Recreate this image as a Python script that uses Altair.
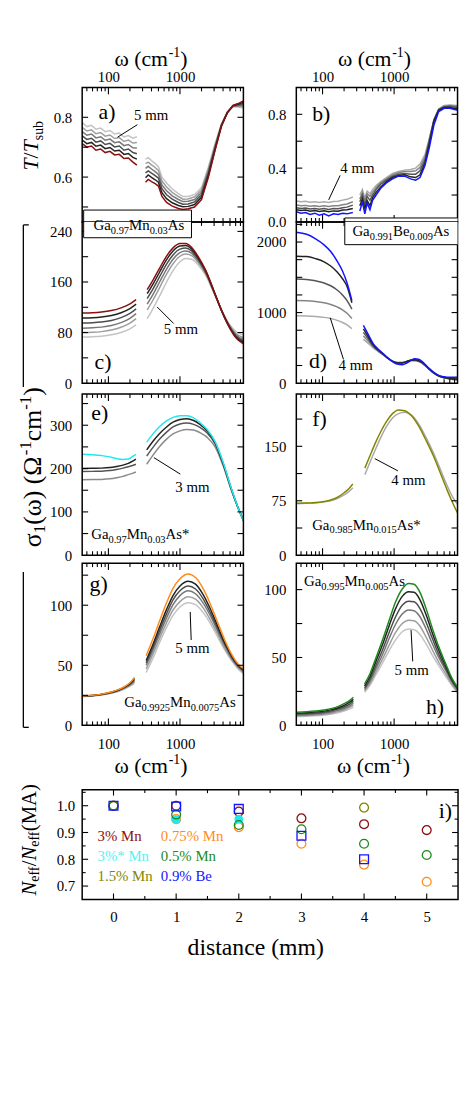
import altair as alt
import pandas as pd

FONT = "Liberation Serif"
W = 163
WI = 380
XDOM = [43, 7700]

RED = "#8b0f0f"
ORANGE = "#ff8c1a"
CYAN = "#22e8ee"
GREEN = "#1e8a1e"
OLIVE = "#858500"
BLUE = "#1414ff"
G5 = ["#222222", "#4d4d4d", "#777777", "#9e9e9e", "#c4c4c4"]
G4 = ["#222222", "#555555", "#858585", "#ababab"]
G3 = ["#222222", "#555555", "#8a8a8a"]

# ---------------- panel a : T/Tsub, Ga0.97Mn0.03As (0..5 mm) ----------------
A_F_LOW = [43, 50, 58, 67, 78, 90, 105, 122, 142, 165, 190, 220, 250]
A_T_LOW = [
    [0.712, 0.700, 0.704, 0.690, 0.694, 0.682, 0.686, 0.674, 0.676, 0.662, 0.664, 0.650, 0.640],
    [0.724, 0.712, 0.716, 0.703, 0.707, 0.695, 0.699, 0.687, 0.690, 0.676, 0.679, 0.666, 0.660],
    [0.738, 0.726, 0.730, 0.717, 0.721, 0.709, 0.713, 0.701, 0.704, 0.690, 0.694, 0.682, 0.678],
    [0.752, 0.740, 0.744, 0.731, 0.735, 0.723, 0.727, 0.715, 0.718, 0.705, 0.709, 0.698, 0.697],
    [0.766, 0.754, 0.758, 0.745, 0.749, 0.737, 0.741, 0.729, 0.732, 0.719, 0.724, 0.714, 0.716],
    [0.782, 0.769, 0.773, 0.760, 0.764, 0.752, 0.756, 0.744, 0.747, 0.734, 0.739, 0.730, 0.735],
]
A_F_MID = [330, 360, 400, 450, 500, 560, 650, 780, 950, 1100, 1300, 1600, 2000, 2500, 3100, 3800, 4600, 5500, 6500, 7700]
A_T_MID = [
    [0.583, 0.592, 0.585, 0.578, 0.570, 0.535, 0.515, 0.503, 0.495, 0.492, 0.494, 0.500, 0.525, 0.600, 0.690, 0.770, 0.815, 0.840, 0.846, 0.855],
    [0.598, 0.607, 0.599, 0.591, 0.583, 0.548, 0.528, 0.514, 0.505, 0.501, 0.502, 0.508, 0.533, 0.607, 0.694, 0.772, 0.816, 0.839, 0.844, 0.850],
    [0.614, 0.621, 0.613, 0.605, 0.596, 0.561, 0.541, 0.526, 0.515, 0.509, 0.510, 0.517, 0.541, 0.614, 0.699, 0.773, 0.816, 0.838, 0.842, 0.845],
    [0.629, 0.636, 0.627, 0.618, 0.609, 0.574, 0.554, 0.537, 0.525, 0.518, 0.519, 0.525, 0.549, 0.621, 0.703, 0.775, 0.817, 0.837, 0.839, 0.840],
    [0.645, 0.650, 0.641, 0.632, 0.622, 0.587, 0.567, 0.549, 0.535, 0.526, 0.527, 0.534, 0.557, 0.628, 0.708, 0.776, 0.817, 0.836, 0.837, 0.835],
    [0.660, 0.665, 0.655, 0.645, 0.635, 0.600, 0.580, 0.560, 0.545, 0.535, 0.535, 0.542, 0.565, 0.635, 0.712, 0.778, 0.818, 0.835, 0.835, 0.830],
]

# ---------------- panel b : T/Tsub, Ga0.991Be0.009As (0..4 mm) ----------------
B_F_LOW = [43, 50, 58, 67, 78, 90, 105, 122, 142, 165, 190, 220, 265]
B_T_LOW = [
    [0.075, 0.065, 0.070, 0.055, 0.065, 0.050, 0.060, 0.045, 0.060, 0.055, 0.065, 0.060, 0.070],
    [0.090, 0.085, 0.088, 0.080, 0.085, 0.078, 0.083, 0.076, 0.082, 0.080, 0.088, 0.090, 0.100],
    [0.105, 0.100, 0.103, 0.096, 0.100, 0.094, 0.099, 0.093, 0.099, 0.098, 0.106, 0.110, 0.125],
    [0.125, 0.120, 0.123, 0.116, 0.120, 0.115, 0.120, 0.114, 0.120, 0.120, 0.128, 0.133, 0.150],
    [0.155, 0.150, 0.153, 0.146, 0.150, 0.145, 0.150, 0.145, 0.152, 0.153, 0.162, 0.168, 0.185],
]
B_F_MID = [332, 360, 390, 420, 460, 500, 560, 650, 780, 950, 1150, 1400, 1700, 2000, 2300, 2700, 3100, 3600, 4200, 5000, 6000, 7700]
B_T_MID = [
    [0.08, 0.15, 0.06, 0.14, 0.09, 0.16, 0.20, 0.25, 0.29, 0.32, 0.34, 0.34, 0.32, 0.31, 0.33, 0.42, 0.55, 0.72, 0.82, 0.845, 0.845, 0.83],
    [0.12, 0.17, 0.10, 0.16, 0.12, 0.18, 0.22, 0.26, 0.30, 0.33, 0.345, 0.35, 0.335, 0.33, 0.35, 0.44, 0.58, 0.75, 0.83, 0.85, 0.85, 0.84],
    [0.15, 0.20, 0.13, 0.19, 0.16, 0.20, 0.24, 0.28, 0.31, 0.34, 0.355, 0.36, 0.355, 0.355, 0.38, 0.46, 0.60, 0.755, 0.835, 0.855, 0.86, 0.85],
    [0.17, 0.22, 0.16, 0.21, 0.19, 0.22, 0.255, 0.29, 0.32, 0.35, 0.365, 0.375, 0.375, 0.38, 0.405, 0.48, 0.61, 0.76, 0.838, 0.86, 0.865, 0.858],
    [0.20, 0.24, 0.18, 0.23, 0.21, 0.24, 0.27, 0.30, 0.33, 0.36, 0.375, 0.385, 0.39, 0.40, 0.43, 0.50, 0.62, 0.76, 0.84, 0.865, 0.87, 0.865],
]

# ---------------- panel c : sigma1, Ga0.97Mn0.03As (0..5 mm) ----------------
C_F_LOW = [43, 60, 80, 110, 150, 200, 244]
C_S_LOW = [
    [111, 111.4, 112.5, 114.8, 119.0, 125.3, 132],
    [103, 103.4, 104.5, 107.0, 111.4, 118.0, 125],
    [95, 95.5, 96.6, 99.1, 103.6, 110.3, 117.5],
    [87, 87.5, 88.6, 91.1, 95.7, 102.6, 110],
    [80, 80.4, 81.5, 84.0, 88.4, 95.0, 102],
    [73, 73.4, 74.3, 76.4, 80.2, 85.9, 92],
]
C_F_MID = [348, 420, 520, 650, 800, 1000, 1200, 1450, 1800, 2300, 3000, 3800, 4800, 6000, 7700]
C_S_MID = [
    [148, 163, 182, 201, 214, 221, 221, 215, 200, 178, 145, 115, 90, 72, 62],
    [141.6, 156.7, 175.8, 195.3, 209.0, 216.9, 217.6, 212.3, 198.2, 176.9, 144.6, 115.1, 90.7, 73.4, 64.0],
    [133.7, 149.0, 168.4, 188.3, 202.8, 212.0, 213.6, 209.1, 196.0, 175.5, 144.1, 115.3, 91.6, 75.1, 66.3],
    [125, 140.5, 160, 180.5, 196, 206.5, 209, 205.5, 193.5, 174, 143.5, 115.5, 92.5, 77, 69],
    [115.8, 131.5, 151.2, 172.3, 188.8, 200.7, 204.2, 201.7, 190.9, 172.4, 142.9, 115.7, 93.5, 79, 71.8],
    [102, 118, 138, 160, 178, 192, 197, 196, 187, 170, 142, 116, 95, 82, 76],
]

# ---------------- panel d : sigma1, Ga0.991Be0.009As (0..4 mm) ----------------
D_F_LOW = [43, 60, 80, 105, 130, 160, 190, 220, 257]
D_S_LOW = [
    [2140, 2110, 2045, 1960, 1865, 1730, 1590, 1420, 1170],
    [1800, 1795, 1765, 1720, 1660, 1575, 1480, 1370, 1140],
    [1475, 1470, 1450, 1420, 1380, 1320, 1250, 1170, 1050],
    [1170, 1168, 1158, 1140, 1115, 1080, 1040, 990, 915],
    [955, 952, 945, 932, 915, 890, 860, 825, 770],
]
D_F_MID = [372, 440, 510, 600, 700, 830, 965, 1100, 1300, 1500, 1700, 1950, 2250, 2600, 3000, 3500, 4200, 5000, 6000, 7700]
D_S_MID = [
    [820, 680, 560, 480, 420, 350, 300, 270, 262, 285, 320, 345, 335, 285, 220, 160, 110, 90, 82, 85],
    [770, 650, 545, 470, 415, 350, 305, 285, 285, 305, 325, 330, 315, 275, 215, 155, 105, 80, 65, 55],
    [720, 620, 530, 462, 410, 350, 308, 290, 290, 308, 324, 325, 310, 270, 212, 152, 102, 78, 62, 52],
    [670, 590, 515, 455, 405, 348, 308, 292, 292, 308, 322, 322, 306, 266, 210, 150, 100, 76, 60, 50],
    [620, 560, 500, 448, 400, 345, 307, 292, 292, 306, 318, 318, 302, 263, 208, 148, 98, 75, 58, 48],
]

# ---------------- panel e : sigma1, Ga0.97Mn0.03As* (0..3 mm) ----------------
E_F_LOW = [43, 60, 80, 105, 130, 160, 190, 218, 242]
E_S_LOW = [
    [233, 232, 230, 227, 223, 221, 222, 228, 233],
    [200, 200.5, 201, 202.5, 205, 208, 212, 217, 222],
    [193, 193.5, 194, 195.5, 198, 201, 204, 207, 210],
    [174, 174.5, 175, 176.5, 179, 182, 186, 189, 192],
]
E_F_MID = [343, 420, 520, 650, 800, 1000, 1250, 1550, 1900, 2400, 3100, 4000, 5200, 6400, 7700]
E_S_MID = [
    [261, 280, 297, 310, 318, 322, 322, 317, 306, 290, 262, 215, 155, 112, 80],
    [243, 263, 281, 296, 307, 313, 315, 311, 302, 287, 260, 213, 154, 112, 80],
    [229, 249, 268, 284, 296, 303, 305, 302, 295, 282, 257, 211, 153, 112, 80],
    [210, 231, 251, 268, 280, 287, 290, 289, 283, 272, 250, 207, 151, 112, 82],
]

# ---------------- panel f : sigma1, Ga0.985Mn0.015As* (0, 4 mm) ----------------
F_F_LOW = [43, 60, 80, 105, 130, 160, 200, 235, 265]
F_S_LOW = [
    [71.5, 72, 72.5, 74, 76, 79.5, 86, 92, 98],
    [71, 71.5, 72, 73.5, 75, 78, 83, 88, 93],
]
F_F_MID = [390, 460, 550, 650, 780, 950, 1150, 1400, 1750, 2200, 2800, 3500, 4400, 5500, 6600, 7700]
F_S_MID = [
    [120, 137, 155, 170, 184, 195, 200, 199, 192, 178, 158, 138, 114, 90, 72, 58],
    [111, 128, 146, 162, 177, 189, 195, 197, 193, 181, 162, 142, 119, 96, 80, 70],
]

# ---------------- panel g : sigma1, Ga0.9925Mn0.0075As (0..5 mm) ----------------
G_F_LOW = [43, 60, 80, 105, 135, 170, 205, 231]
G_S_LOW = [
    [24.5, 25, 26, 27.5, 29.5, 32.5, 36, 40],
    [24.4, 24.9, 25.8, 27.3, 29.2, 32.1, 35.4, 39],
    [24.3, 24.8, 25.7, 27.1, 29.0, 31.8, 34.9, 38],
    [24.2, 24.7, 25.6, 26.9, 28.7, 31.4, 34.3, 37],
    [24.1, 24.6, 25.4, 26.7, 28.4, 31.0, 33.7, 36],
    [24.0, 24.5, 25.3, 26.5, 28.1, 30.5, 33.0, 34.5],
]
G_F_MID = [337, 420, 520, 650, 800, 1000, 1300, 1650, 2100, 2700, 3400, 4300, 5400, 6500, 7700]
G_S_MID = [
    [58, 72, 87, 102, 114, 122, 126, 123, 114, 100, 85, 70, 58, 51, 47],
    [54, 67.5, 82, 96.5, 108, 116, 120, 117.5, 109, 96, 82, 68, 57, 50, 46],
    [52, 65, 79, 93, 104.5, 112, 116, 113.5, 105.5, 93, 80, 67, 56, 49.5, 46],
    [50, 62.5, 76, 89.5, 100.5, 108, 112, 109.5, 102, 90.5, 78, 65.5, 55, 49, 45],
    [47, 59.5, 72.5, 85.5, 96, 103, 107, 105, 98, 87, 75.5, 63.5, 54, 48, 44],
    [44, 56, 69, 81.5, 91.5, 98.5, 102, 100.5, 94, 84, 73, 62, 53, 47, 43],
]

# ---------------- panel h : sigma1, Ga0.995Mn0.005As (0..5 mm) ----------------
H_F_LOW = [43, 60, 80, 105, 135, 170, 210, 245, 270]
H_S_LOW = [
    [9.7, 10, 10.5, 11.3, 12.5, 14.2, 16.5, 18.8, 20.7],
    [9.0, 9.3, 9.8, 10.5, 11.6, 13.2, 15.3, 17.5, 19.2],
    [8.3, 8.6, 9.0, 9.7, 10.7, 12.2, 14.1, 16.1, 17.7],
    [7.6, 7.9, 8.3, 8.9, 9.8, 11.2, 13.0, 14.8, 16.3],
    [7.0, 7.3, 7.6, 8.2, 9.0, 10.3, 11.9, 13.6, 14.9],
    [6.5, 6.7, 7.0, 7.5, 8.3, 9.4, 10.9, 12.3, 13.4],
]
H_F_MID = [387, 460, 560, 700, 860, 1050, 1300, 1600, 1900, 2300, 2800, 3400, 4200, 5200, 6400, 7700]
H_S_MID = [
    [30.5, 38, 50, 64, 78, 91, 100.5, 104.5, 104, 98, 86, 72, 58, 46, 35, 28],
    [29, 36, 47.5, 60.5, 74, 86, 95, 98.5, 98, 92.5, 81.5, 68.5, 55.5, 44.5, 34, 27.5],
    [27.5, 34, 44.5, 56.5, 69, 80, 88.5, 91.5, 91, 86, 76, 64.5, 52.5, 42.5, 33, 27],
    [26.5, 32.5, 42, 53, 64.5, 74.5, 82, 85, 84.5, 80, 71, 60.5, 50, 41, 32, 26],
    [25.5, 31, 39.5, 49.5, 59.5, 68.5, 75, 77.5, 77, 73, 65, 56, 46.5, 38.5, 30.5, 25],
    [24.4, 29.5, 37.5, 46.5, 55.5, 63, 69, 71, 70.5, 67, 60, 52, 44, 36.5, 29.5, 24],
]

# ---------------- panel i : Neff / Neff(MA) vs distance ----------------
I_SERIES = [
    ("3% Mn", RED, "circle", False, [0, 1, 2, 3, 4, 5], [1.0, 1.0, 0.978, 0.953, 0.931, 0.909]),
    ("0.75% Mn", ORANGE, "circle", False, [0, 1, 2, 3, 4, 5], [1.0, 0.95, 0.92, 0.858, 0.78, 0.716]),
    ("3%* Mn", CYAN, "circle", True, [1, 2], [0.948, 0.95]),
    ("1.5% Mn", OLIVE, "circle", False, [0, 4], [1.0, 0.993]),
    ("0.5% Mn", GREEN, "circle", False, [0, 1, 2, 3, 4, 5], [1.0, 0.967, 0.928, 0.912, 0.858, 0.816]),
    ("0.9% Be", BLUE, "square", False, [0, 1, 2, 3, 4], [1.0, 0.997, 0.988, 0.888, 0.80]),
]

X_MAJ = [100, 1000]
X_MIN = [50, 60, 70, 80, 90, 200, 300, 400, 500, 600, 700, 800, 900,
         2000, 3000, 4000, 5000, 6000, 7000]

ONE = pd.DataFrame({"z": [0]})

CW = {"0": .5, "1": .5, "2": .5, "3": .5, "4": .5, "5": .5, "6": .5, "7": .5, "8": .5, "9": .5,
      ".": .25, " ": .25, "*": .5, "%": .833, "(": .333, ")": .333, "-": .333, "/": .278,
      "A": .722, "B": .667, "G": .722, "M": .889, "N": .667, "T": .556,
      "a": .444, "b": .5, "c": .444, "d": .5, "e": .444, "f": .333, "i": .278, "m": .778,
      "n": .5, "s": .389, "t": .278, "u": .5, "ω": .686, "σ": .55, "Ω": .77}


def tw(s, size):
    return sum(CW.get(c, 0.5) for c in s) * size


def tpiece(s, px, py, size, color="black", italic=False, angle=0, clip=False):
    kw = dict(text=s, font=FONT, fontSize=size, color=color, align="left", baseline="alphabetic")
    if italic:
        kw["fontStyle"] = "italic"
    if angle:
        kw["angle"] = angle
    if clip:
        kw["clip"] = True
    return alt.Chart(ONE).mark_text(**kw).encode(x=alt.value(px), y=alt.value(py))


def rich(pieces, x, y, ox, oy, angle=0, center=False, color="black", clip=False):
    total = sum(tw(p[0], p[1]) for p in pieces)
    pos = -total / 2 if center else 0
    out = []
    for s, size, shift, it in pieces:
        if angle == 0:
            px, py = x + pos, y + shift
        else:
            px, py = x + shift, y - pos
        out.append(tpiece(s, px - ox, py - oy, size, color, it, angle, clip))
        pos += tw(s, size)
    return out


def formula(parts, x, y, ox, oy, clip=False):
    pieces = [(s, 10.5 if sub else 15, 4 if sub else 0, False) for s, sub in parts]
    return rich(pieces, x, y, ox, oy, clip=clip)


def seg(x1, y1, x2, y2, ox, oy, sw=1.0, color="black"):
    return alt.Chart(ONE).mark_rule(color=color, strokeWidth=sw).encode(
        x=alt.value(x1 - ox), y=alt.value(y1 - oy), x2=alt.value(x2 - ox), y2=alt.value(y2 - oy))


def box(x1, y1, x2, y2, ox, oy):
    return alt.Chart(ONE).mark_rect(fill="white", stroke="black", strokeWidth=1.0, clip=True).encode(
        x=alt.value(x1 - ox), x2=alt.value(x2 - ox), y=alt.value(y1 - oy), y2=alt.value(y2 - oy))


def omega_title(cx, base, ox, oy):
    return rich([("ω (cm", 22, 0, False), ("-1", 14, -9, False), (")", 22, 0, False)],
                cx, base, ox, oy, center=True)


def curves(segs, colors, xsc, ysc, xax, yax, interp, sw=1.5):
    out = []
    for k in reversed(range(len(colors))):
        rows = []
        for gi, (fr, vals) in enumerate(segs):
            for f, v in zip(fr, vals[k]):
                rows.append({"f": f, "v": v, "g": gi})
        out.append(alt.Chart(pd.DataFrame(rows)).mark_line(
            color=colors[k], strokeWidth=sw, interpolate=interp).encode(
            x=alt.X("f:Q", scale=xsc, axis=xax),
            y=alt.Y("v:Q", scale=ysc, axis=yax),
            detail="g:N"))
    return out


def ticks_frame(width, t, h, xsc, ysc, xax, yax, xmaj, xmin, ymaj, ymin):
    L = []
    for vals, ln in ((xmaj, 7), (xmin, 4)):
        if vals:
            d = pd.DataFrame({"f": vals})
            base = alt.Chart(d).mark_rule(color="black", strokeWidth=1.1)
            L.append(base.encode(x=alt.X("f:Q", scale=xsc, axis=xax), y=alt.value(t), y2=alt.value(t + ln)))
            L.append(base.encode(x=alt.X("f:Q", scale=xsc, axis=xax), y=alt.value(t + h), y2=alt.value(t + h - ln)))
    for vals, ln in ((ymaj, 6), (ymin, 3.5)):
        if vals:
            d = pd.DataFrame({"v": vals})
            base = alt.Chart(d).mark_rule(color="black", strokeWidth=1.1)
            L.append(base.encode(y=alt.Y("v:Q", scale=ysc, axis=yax), x=alt.value(0), x2=alt.value(ln)))
            L.append(base.encode(y=alt.Y("v:Q", scale=ysc, axis=yax), x=alt.value(width - ln), x2=alt.value(width)))
    L.append(alt.Chart(ONE).mark_rect(fillOpacity=0, stroke="black", strokeWidth=1.5).encode(
        x=alt.value(0), x2=alt.value(width), y=alt.value(t), y2=alt.value(t + h)))
    return L


def yaxis(vals, fmt, pad=10.5):
    return alt.Axis(values=vals, format=fmt, ticks=False, tickSize=0, domain=False, grid=False,
                    labelFont=FONT, labelFontSize=15, labelPadding=pad, labelColor="black", title=None)


def xaxis(orient, pad):
    return alt.Axis(orient=orient, values=X_MAJ, format="d", ticks=False, tickSize=0, domain=False,
                    grid=False, labelFont=FONT, labelFontSize=15, labelPadding=pad,
                    labelColor="black", title=None, labelFlush=False)


def xs():
    return alt.Scale(type="log", domain=XDOM, nice=False)


def ys(lo, hi, t, h):
    return alt.Scale(domain=[lo, hi], range=[t + h, t], nice=False, zero=False)


def panel(ox, oy, t, h, ydom, yvals, yfmt, ytk, segs, colors, interp, xax, extras, width=W):
    xsc = xs()
    ysc = ys(ydom[0], ydom[1], t, h)
    yax = yaxis(yvals, yfmt)
    layers = curves(segs, colors, xsc, ysc, xax, yax, interp)
    layers += ticks_frame(width, t, h, xsc, ysc, xax, yax, X_MAJ, X_MIN, ytk, None)
    layers += extras
    return alt.layer(*layers).properties(width=width, height=t + h)


LX, RX = 82.5, 299.0
Y1, Y2, Y3, Y4, Y5 = 83.0, 219.0, 382.0, 556.0, 728.0

BOX_A = (84, 207, 193, 235)
BOX_B = (348, 215, 463, 242)
FORM_A = [("Ga", False), ("0.97", True), ("Mn", False), ("0.03", True), ("As", False)]
FORM_B = [("Ga", False), ("0.991", True), ("Be", False), ("0.009", True), ("As", False)]

# ---- panel a ----
ox, oy = LX, Y1
ex = [seg(8.5, 8.5, 8.5, 9.5, ox, oy, 1, "white")]
ex += omega_title(152, 61, ox, oy)
ex += rich([("T", 22, 0, True), ("/", 22, 0, False), ("T", 22, 0, True), ("sub", 14, 5, False)],
           38, 167, ox, oy, angle=270)
ex += [tpiece("a)", 99 - ox, 115 - oy, 22), tpiece("5 mm", 135 - ox, 116 - oy, 15),
       seg(138.3, 120.7, 118.3, 133.3, ox, oy)]
ex += [box(*BOX_A, ox, oy)] + formula(FORM_A, 94, 227, ox, oy, clip=True)
pa = panel(ox, oy, 0, 136, [0.45, 0.9], [0.6, 0.8], ".1f", [0.5, 0.6, 0.7, 0.8],
           [(A_F_LOW, A_T_LOW), (A_F_MID, A_T_MID)], [RED] + G5, "linear", xaxis("top", 3), ex)

# ---- panel b ----
ox, oy = RX, Y1
ex = omega_title(378, 61, ox, oy)
ex += [tpiece("b)", 315 - ox, 117 - oy, 22), tpiece("4 mm", 343.5 - ox, 170 - oy, 15),
       seg(343.3, 172, 331.7, 196.7, ox, oy)]
ex += [box(*BOX_B, ox, oy)] + formula(FORM_B, 355.7, 233, ox, oy, clip=True)
pb = panel(ox, oy, 0, 136, [0.0, 1.0], [0.0, 0.4, 0.8], ".1f", [0.2, 0.4, 0.6, 0.8],
           [(B_F_LOW, B_T_LOW), (B_F_MID, B_T_MID)], [BLUE] + G4, "linear", xaxis("top", 3), ex)

# ---- panel c ----
ox, oy = LX, Y2
ex = [box(*BOX_A, ox, oy)] + formula(FORM_A, 94, 227, ox, oy, clip=True)
ex += [tpiece("c)", 95 - ox, 368 - oy, 22), tpiece("5 mm", 165 - ox, 332.7 - oy, 15),
       seg(158.3, 305, 175, 321.7, ox, oy)]
ex += [seg(23, 222, 23, 386, ox, oy, 1.3), seg(23, 222, 28.5, 222, ox, oy, 1.3)]
pc = panel(ox, oy, 0, 163, [0, 255], [0, 80, 160, 240], "d", [40, 80, 120, 160, 200, 240],
           [(C_F_LOW, C_S_LOW), (C_F_MID, C_S_MID)], [RED] + G5, "monotone", None, ex)

# ---- panel d ----
ox, oy = RX, Y2
ex = [box(*BOX_B, ox, oy)] + formula(FORM_B, 355.7, 233, ox, oy, clip=True)
ex += [tpiece("d)", 311.7 - ox, 366.7 - oy, 22), tpiece("4 mm", 341.7 - ox, 369 - oy, 15),
       seg(333.3, 316, 346.7, 358, ox, oy)]
pd_ = panel(ox, oy, 0, 163, [0, 2285], [0, 1000, 2000], "d",
            [250, 500, 750, 1000, 1250, 1500, 1750, 2000, 2250],
            [(D_F_LOW, D_S_LOW), (D_F_MID, D_S_MID)], [BLUE] + G4, "monotone", None, ex)

# ---- panel e ----
ox, oy = LX, Y3
ex = [tpiece("e)", 91.7 - ox, 419.3 - oy, 22), tpiece("3 mm", 176.7 - ox, 491.7 - oy, 15),
      seg(155, 457.3, 181.7, 474, ox, oy)]
ex += formula([("Ga", False), ("0.97", True), ("Mn", False), ("0.03", True), ("As*", False)],
              91.7, 539.5, ox, oy)
ex += rich([("σ", 26, 0, False), ("1", 17, 4, False), ("(ω) (Ω", 26, 0, False), ("-1", 17, -10, False),
            ("cm", 26, 0, False), ("-1", 17, -10, False), (")", 26, 0, False)],
           41, 548, ox, oy, angle=270)
pe = panel(ox, oy, 11, 163, [0, 372], [0, 100, 200, 300], "d", [50, 100, 150, 200, 250, 300, 350],
           [(E_F_LOW, E_S_LOW), (E_F_MID, E_S_MID)], [CYAN] + G3, "monotone", None, ex)

# ---- panel f ----
ox, oy = RX, Y3
ex = [tpiece("f)", 315 - ox, 425 - oy, 22), tpiece("4 mm", 395 - ox, 485 - oy, 15),
      seg(378.3, 458.3, 401.7, 470.7, ox, oy)]
ex += formula([("Ga", False), ("0.985", True), ("Mn", False), ("0.015", True), ("As*", False)],
              315, 530, ox, oy)
pf = panel(ox, oy, 11, 163, [0, 222], [0, 75, 150], "d", [37.5, 75, 112.5, 150, 187.5],
           [(F_F_LOW, F_S_LOW), (F_F_MID, F_S_MID)], [OLIVE, "#a8a8a8"], "monotone", None, ex)

# ---- panel g ----
ox, oy = LX, Y4
ex = [tpiece("g)", 90 - ox, 592 - oy, 22), tpiece("5 mm", 176.7 - ox, 655 - oy, 15),
      seg(191.7, 613.3, 192.7, 641.7, ox, oy)]
ex += formula([("Ga", False), ("0.9925", True), ("Mn", False), ("0.0075", True), ("As", False)],
              125, 709, ox, oy)
ex += omega_title(152, 776, ox, oy)
ex += [seg(23, 573, 23, 730, ox, oy, 1.3), seg(23, 730, 28.5, 730, ox, oy, 1.3)]
pg = panel(ox, oy, 8, 164, [0, 135], [0, 50, 100], "d", [25, 50, 75, 100, 125],
           [(G_F_LOW, G_S_LOW), (G_F_MID, G_S_MID)], [ORANGE] + G5, "monotone", xaxis("bottom", 11.5), ex)

# ---- panel h ----
ox, oy = RX, Y4
ex = [tpiece("h)", 430 - ox, 716.7 - oy, 22), tpiece("5 mm", 398.3 - ox, 676.7 - oy, 15),
      seg(415, 631.7, 416.7, 663.3, ox, oy)]
ex += formula([("Ga", False), ("0.995", True), ("Mn", False), ("0.005", True), ("As", False)],
              306.7, 587, ox, oy)
ex += omega_title(377, 776, ox, oy)
ph = panel(ox, oy, 8, 164, [0, 119.5], [0, 50, 100], "d", [25, 50, 75, 100],
           [(H_F_LOW, H_S_LOW), (H_F_MID, H_S_MID)], [GREEN] + G5, "monotone", xaxis("bottom", 11.5), ex)

# ---- panel i ----  (layout width = W, drawn over WI px via the scale range)
ox, oy = LX, Y5
TI, HI = 65, 111
ixs = alt.Scale(domain=[-0.5, 5.5], range=[0, WI], nice=False, zero=False)
iys = alt.Scale(domain=[0.65, 1.06], range=[TI + HI, TI], nice=False, zero=False)
ixa = alt.Axis(values=[0, 1, 2, 3, 4, 5], format="d", ticks=False, tickSize=0, domain=False, grid=False,
               labelFont=FONT, labelFontSize=15, labelPadding=10.8, labelColor="black", title=None,
               labelFlush=False)
iya = yaxis([0.7, 0.8, 0.9, 1.0], ".1f", 7.5)
ilayers = []
for lab, col, shp, fil, dd, vv in I_SERIES:
    ilayers.append(alt.Chart(pd.DataFrame({"d": dd, "n": vv})).mark_point(
        shape=shp, filled=fil, size=80, strokeWidth=1.3, color=col, opacity=1).encode(
        x=alt.X("d:Q", scale=ixs, axis=ixa), y=alt.Y("n:Q", scale=iys, axis=iya)))
for vals, ln in (([0, 1, 2, 3, 4, 5], 6), ([0.5, 1.5, 2.5, 3.5, 4.5], 3.5)):
    d = pd.DataFrame({"d": vals})
    b = alt.Chart(d).mark_rule(color="black", strokeWidth=1.1)
    ilayers.append(b.encode(x=alt.X("d:Q", scale=ixs, axis=ixa), y=alt.value(TI), y2=alt.value(TI + ln)))
    ilayers.append(b.encode(x=alt.X("d:Q", scale=ixs, axis=ixa), y=alt.value(TI + HI), y2=alt.value(TI + HI - ln)))
for vals, ln in (([0.7, 0.8, 0.9, 1.0], 6), ([0.75, 0.85, 0.95, 1.05], 3.5)):
    d = pd.DataFrame({"n": vals})
    b = alt.Chart(d).mark_rule(color="black", strokeWidth=1.1)
    ilayers.append(b.encode(y=alt.Y("n:Q", scale=iys, axis=iya), x=alt.value(0), x2=alt.value(ln)))
    ilayers.append(b.encode(y=alt.Y("n:Q", scale=iys, axis=iya), x=alt.value(WI - ln), x2=alt.value(WI)))
ilayers.append(alt.Chart(ONE).mark_rect(fillOpacity=0, stroke="black", strokeWidth=1.5).encode(
    x=alt.value(0), x2=alt.value(WI), y=alt.value(TI), y2=alt.value(TI + HI)))
LEG = [("3% Mn", RED, 98, 845), ("0.75% Mn", ORANGE, 162, 845),
       ("3%* Mn", "#55f2f2", 98, 865), ("0.5% Mn", GREEN, 162, 865),
       ("1.5% Mn", OLIVE, 98, 885), ("0.9% Be", BLUE, 162, 885)]
for s, c, x, y in LEG:
    ilayers.append(tpiece(s, x - ox, y - oy, 15, c))
ilayers.append(tpiece("i)", 443 - ox, 822 - oy, 22))
ilayers += rich([("N", 21, 0, True), ("eff", 14, 3, False), ("/", 21, 0, False), ("N", 21, 0, True),
                 ("eff", 14, 3, False), ("(MA)", 21, 0, False)], 36, 900, ox, oy, angle=270)
ilayers += rich([("distance (mm)", 24, 0, False)], 258, 960, ox, oy, center=True)
pi = alt.layer(*ilayers).properties(width=W, height=TI + HI)

grid = alt.concat(pa, pb, pc, pd_, pe, pf, pg, ph, pi, columns=2,
                  spacing={"row": 0, "column": 53.5}, bounds="flush", align="each")

chart = grid.properties(padding=0, background="white").configure_view(
    strokeOpacity=0).configure_axis(labelFont=FONT, labelColor="black")

chart.save("out.html", embed_options={"renderer": "svg", "actions": False})
